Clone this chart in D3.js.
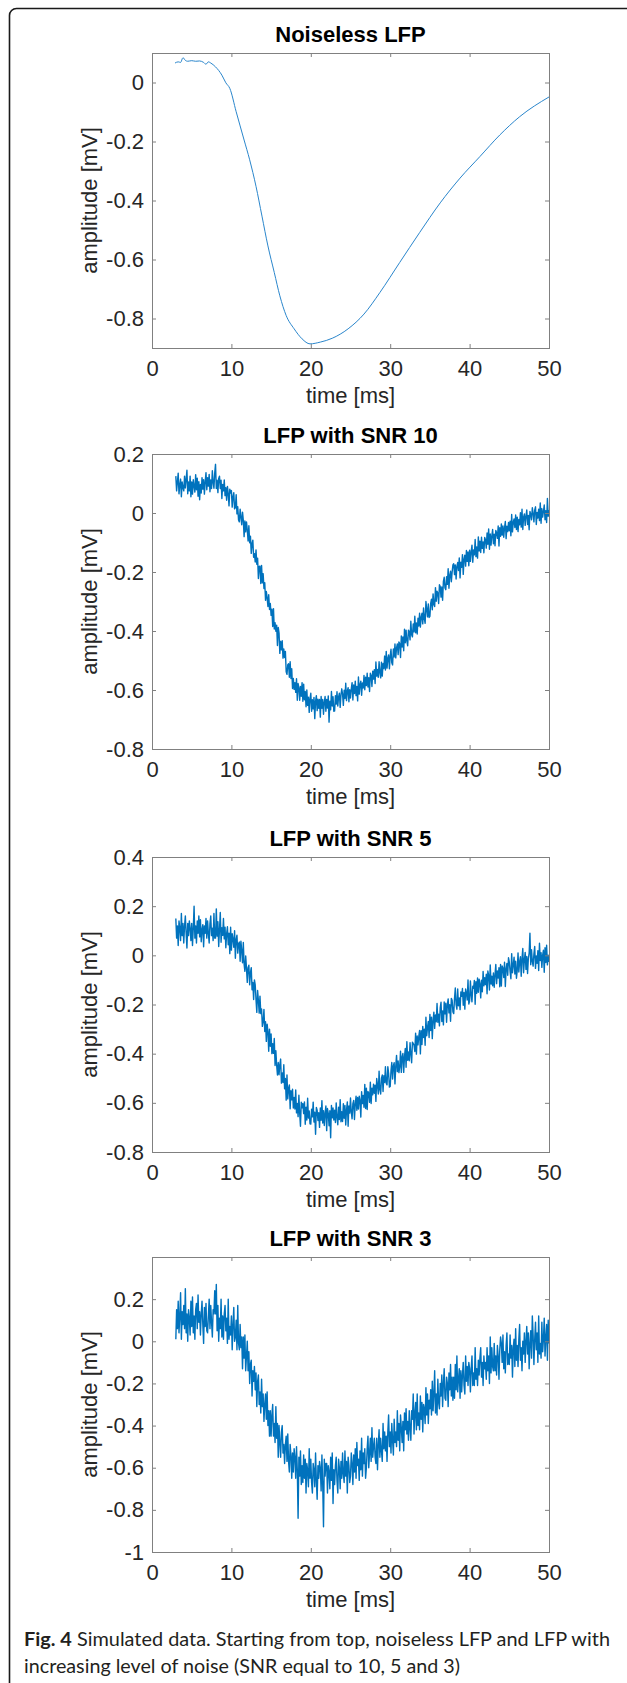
<!DOCTYPE html>
<html>
<head>
<meta charset="utf-8">
<script src="https://cdn.jsdelivr.net/npm/d3@7"></script>
<style>
  body { margin: 0; background: #fff; }
  svg { display: block; }
</style>
</head>
<body>
<svg id="drawing_region"></svg>
<script>
// axis ticks / titles
const xTicks = [0, 10, 20, 30, 40, 50];
const titles = ["Noiseless LFP", "LFP with SNR 10", "LFP with SNR 5", "LFP with SNR 3"];
const yLimits = [[-0.9, 0.1], [-0.8, 0.2], [-0.8, 0.4], [-1, 0.4]];
const yTicks = [
    [-0.8, -0.6, -0.4, -0.2, 0],
    [-0.8, -0.6, -0.4, -0.2, 0, 0.2],
    [-0.8, -0.6, -0.4, -0.2, 0, 0.2, 0.4],
    [-1, -0.8, -0.6, -0.4, -0.2, 0, 0.2]
];

// noiseless LFP
const noiselessTime = [2.9, 3.3, 3.6, 3.9, 4.2, 4.5, 5.0, 5.5, 6.0, 6.5, 6.8, 7.1, 7.4, 8.0, 8.8, 9.3, 9.8,
    10.6, 11.6, 12.3, 13.1, 13.85, 14.6, 15.4, 16.1, 16.9, 17.9, 18.9, 19.9, 21.2, 22.7, 24.7, 26.7,
    28.7, 31.2, 33.7, 36.3, 38.8, 41.3, 43.8, 46.3, 50];
const noiselessAmp = [0.066, 0.07, 0.068, 0.084, 0.075, 0.072, 0.074, 0.072, 0.073, 0.068, 0.062, 0.07, 0.066, 0.053, 0.025, -0.001, -0.02,
    -0.099, -0.195, -0.262, -0.352, -0.453, -0.554, -0.644, -0.723, -0.79, -0.835, -0.869, -0.886, -0.88, -0.867, -0.835, -0.785,
    -0.712, -0.61, -0.509, -0.408, -0.324, -0.251, -0.178, -0.116, -0.049];

// noisy traces: one sample every 0.1 ms from 3 ms to 50 ms (one row = 1 ms)
const sampleStart = 3;
const sampleStep = 0.1;

const snr10Amp = [
    0.125, 0.075, 0.105, 0.135, 0.065, 0.095, 0.115, 0.055, 0.105, 0.085,
    0.075, 0.125, 0.085, 0.115, 0.145, 0.065, 0.105, 0.075, 0.125, 0.055,
    0.105, 0.064, 0.113, 0.092, 0.071, 0.130, 0.079, 0.118, 0.057, 0.106,
    0.045, 0.097, 0.068, 0.120, 0.081, 0.113, 0.064, 0.106, 0.137, 0.079,
    0.120, 0.091, 0.131, 0.072, 0.112, 0.083, 0.143, 0.104, 0.084, 0.135,
    0.165, 0.083, 0.111, 0.069, 0.117, 0.125, 0.083, 0.111, 0.049, 0.097,
    0.075, 0.112, 0.059, 0.086, 0.043, 0.090, 0.067, 0.024, 0.081, 0.068,
    0.076, 0.020, 0.055, 0.069, 0.014, 0.018, 0.062, -0.003, 0.021, -0.024,
    -0.030, 0.013, -0.013, -0.040, 0.003, -0.024, -0.080, -0.027, -0.064, -0.030,
    -0.057, -0.095, -0.043, -0.101, -0.079, -0.137, -0.104, -0.092, -0.150, -0.138,
    -0.166, -0.125, -0.174, -0.153, -0.222, -0.181, -0.180, -0.239, -0.178, -0.237,
    -0.206, -0.256, -0.236, -0.296, -0.266, -0.287, -0.317, -0.277, -0.327, -0.307,
    -0.347, -0.326, -0.385, -0.324, -0.393, -0.372, -0.401, -0.380, -0.449, -0.388,
    -0.407, -0.476, -0.435, -0.464, -0.433, -0.492, -0.461, -0.490, -0.469, -0.538,
    -0.547, -0.514, -0.511, -0.557, -0.504, -0.561, -0.528, -0.595, -0.561, -0.598,
    -0.575, -0.608, -0.562, -0.635, -0.578, -0.592, -0.635, -0.588, -0.621, -0.575,
    -0.638, -0.580, -0.633, -0.605, -0.657, -0.600, -0.652, -0.624, -0.676, -0.629,
    -0.611, -0.672, -0.633, -0.664, -0.625, -0.697, -0.638, -0.619, -0.670, -0.631,
    -0.662, -0.632, -0.692, -0.622, -0.662, -0.632, -0.682, -0.642, -0.622, -0.672,
    -0.632, -0.661, -0.620, -0.709, -0.638, -0.667, -0.605, -0.654, -0.623, -0.672,
    -0.671, -0.619, -0.648, -0.606, -0.654, -0.623, -0.611, -0.659, -0.617, -0.596,
    -0.614, -0.652, -0.601, -0.629, -0.577, -0.636, -0.604, -0.592, -0.640, -0.599,
    -0.627, -0.596, -0.575, -0.634, -0.583, -0.612, -0.570, -0.619, -0.588, -0.637,
    -0.556, -0.614, -0.582, -0.570, -0.618, -0.576, -0.593, -0.551, -0.599, -0.557,
    -0.585, -0.543, -0.590, -0.558, -0.605, -0.543, -0.551, -0.588, -0.536, -0.563,
    -0.531, -0.578, -0.505, -0.553, -0.530, -0.557, -0.504, -0.541, -0.559, -0.506,
    -0.553, -0.510, -0.527, -0.485, -0.532, -0.469, -0.526, -0.493, -0.481, -0.528,
    -0.485, -0.462, -0.508, -0.515, -0.461, -0.488, -0.444, -0.491, -0.457, -0.444,
    -0.480, -0.437, -0.443, -0.490, -0.417, -0.454, -0.420, -0.467, -0.394, -0.440,
    -0.397, -0.434, -0.450, -0.397, -0.403, -0.430, -0.367, -0.413, -0.420, -0.376,
    -0.403, -0.350, -0.406, -0.373, -0.410, -0.357, -0.383, -0.340, -0.387, -0.353,
    -0.340, -0.376, -0.322, -0.358, -0.374, -0.300, -0.326, -0.352, -0.308, -0.354,
    -0.350, -0.306, -0.292, -0.328, -0.274, -0.310, -0.317, -0.253, -0.299, -0.265,
    -0.271, -0.307, -0.243, -0.249, -0.285, -0.251, -0.296, -0.232, -0.218, -0.254,
    -0.260, -0.216, -0.242, -0.189, -0.255, -0.211, -0.197, -0.233, -0.200, -0.176,
    -0.172, -0.209, -0.176, -0.224, -0.181, -0.168, -0.195, -0.152, -0.220, -0.167,
    -0.184, -0.141, -0.208, -0.156, -0.143, -0.180, -0.127, -0.164, -0.132, -0.179,
    -0.126, -0.164, -0.131, -0.109, -0.167, -0.125, -0.142, -0.090, -0.148, -0.115,
    -0.153, -0.081, -0.129, -0.096, -0.134, -0.082, -0.120, -0.098, -0.135, -0.083,
    -0.091, -0.119, -0.068, -0.106, -0.054, -0.123, -0.071, -0.109, -0.077, -0.056,
    -0.104, -0.072, -0.111, -0.059, -0.067, -0.086, -0.044, -0.112, -0.050, -0.079,
    -0.037, -0.075, -0.044, -0.082, -0.050, -0.029, -0.087, -0.045, -0.063, -0.032,
    -0.060, -0.028, -0.077, -0.005, -0.064, -0.032, -0.020, -0.049, -0.007, -0.056,
    -0.014, -0.063, -0.022, -0.040, 0.001, -0.048, 0.013, -0.056, -0.014, -0.003,
    -0.042, -0.011, 0.010, -0.039, -0.008, -0.057, 0.005, -0.004, -0.023, 0.018,
    -0.001, -0.030, 0.010, 0.021, -0.039, 0.002, -0.017, 0.013, -0.026, 0.034,
    -0.035, 0.015, -0.014, 0.006, 0.027, -0.023, 0.008, -0.032, 0.049, -0.011,
    0.010
];

const snr5Amp = [
    0.15, 0.07, 0.12, 0.04, 0.14, 0.11, 0.06, 0.17, 0.08, 0.13,
    0.05, 0.12, 0.16, 0.09, 0.03, 0.13, 0.08, 0.14, 0.11, 0.06,
    0.13, 0.04, 0.11, 0.20, 0.07, 0.12, 0.05, 0.14, 0.09, 0.16,
    0.075, 0.145, 0.055, 0.105, 0.125, 0.035, 0.120, 0.090, 0.150, 0.070,
    0.14, 0.09, 0.05, 0.13, 0.16, 0.08, 0.11, 0.06, 0.17, 0.07,
    0.070, 0.189, 0.078, 0.137, 0.036, 0.105, 0.174, 0.053, 0.112, 0.081,
    0.150, 0.067, 0.114, 0.031, 0.088, 0.116, 0.043, 0.090, 0.007, 0.114,
    0.021, 0.088, 0.066, 0.033, 0.100, -0.012, 0.065, 0.082, 0.009, 0.047,
    0.054, -0.024, 0.057, 0.019, -0.030, 0.052, -0.036, -0.065, -0.003, -0.052,
    -0.110, -0.050, -0.040, -0.120, -0.070, -0.050, -0.140, -0.110, -0.180, -0.100,
    -0.120, -0.181, -0.232, -0.143, -0.184, -0.235, -0.166, -0.237, -0.218, -0.289,
    -0.270, -0.220, -0.310, -0.270, -0.350, -0.280, -0.310, -0.390, -0.300, -0.370,
    -0.320, -0.400, -0.359, -0.399, -0.338, -0.448, -0.388, -0.447, -0.487, -0.436,
    -0.486, -0.444, -0.422, -0.520, -0.478, -0.517, -0.445, -0.543, -0.501, -0.589,
    -0.487, -0.584, -0.541, -0.527, -0.624, -0.551, -0.588, -0.545, -0.621, -0.578,
    -0.625, -0.548, -0.641, -0.603, -0.656, -0.569, -0.642, -0.695, -0.597, -0.620,
    -0.603, -0.644, -0.596, -0.687, -0.618, -0.670, -0.581, -0.662, -0.633, -0.685,
    -0.686, -0.626, -0.657, -0.597, -0.678, -0.638, -0.728, -0.619, -0.630, -0.672,
    -0.640, -0.700, -0.621, -0.671, -0.591, -0.682, -0.632, -0.692, -0.642, -0.613,
    -0.713, -0.623, -0.643, -0.693, -0.632, -0.742, -0.611, -0.661, -0.621, -0.670,
    -0.630, -0.680, -0.600, -0.659, -0.689, -0.618, -0.668, -0.587, -0.677, -0.636,
    -0.676, -0.604, -0.663, -0.611, -0.690, -0.628, -0.596, -0.695, -0.613, -0.642,
    -0.580, -0.638, -0.665, -0.603, -0.590, -0.668, -0.605, -0.573, -0.630, -0.578,
    -0.625, -0.573, -0.590, -0.658, -0.555, -0.603, -0.570, -0.618, -0.525, -0.623,
    -0.540, -0.627, -0.554, -0.561, -0.598, -0.516, -0.603, -0.540, -0.567, -0.524,
    -0.561, -0.528, -0.594, -0.501, -0.527, -0.564, -0.471, -0.547, -0.564, -0.500,
    -0.487, -0.554, -0.490, -0.517, -0.453, -0.520, -0.527, -0.453, -0.480, -0.536,
    -0.533, -0.470, -0.436, -0.503, -0.450, -0.437, -0.523, -0.450, -0.407, -0.473,
    -0.430, -0.477, -0.453, -0.390, -0.476, -0.413, -0.399, -0.476, -0.412, -0.379,
    -0.455, -0.351, -0.427, -0.393, -0.429, -0.355, -0.401, -0.437, -0.353, -0.359,
    -0.365, -0.391, -0.317, -0.402, -0.328, -0.364, -0.330, -0.306, -0.401, -0.307,
    -0.363, -0.289, -0.334, -0.300, -0.366, -0.252, -0.327, -0.293, -0.269, -0.334,
    -0.240, -0.306, -0.252, -0.339, -0.265, -0.231, -0.297, -0.243, -0.270, -0.196,
    -0.272, -0.239, -0.287, -0.214, -0.191, -0.269, -0.226, -0.283, -0.190, -0.238,
    -0.195, -0.272, -0.199, -0.177, -0.234, -0.201, -0.268, -0.175, -0.183, -0.230,
    -0.237, -0.175, -0.133, -0.201, -0.219, -0.137, -0.205, -0.173, -0.221, -0.149,
    -0.167, -0.135, -0.203, -0.151, -0.219, -0.137, -0.154, -0.182, -0.100, -0.198,
    -0.186, -0.104, -0.161, -0.189, -0.126, -0.134, -0.102, -0.199, -0.107, -0.154,
    -0.092, -0.150, -0.097, -0.115, -0.173, -0.101, -0.148, -0.066, -0.124, -0.091,
    -0.119, -0.077, -0.156, -0.064, -0.082, -0.141, -0.039, -0.117, -0.085, -0.124,
    -0.072, -0.130, -0.079, -0.037, -0.115, -0.064, -0.092, -0.050, -0.128, -0.037,
    -0.125, -0.043, -0.052, -0.090, -0.028, -0.127, -0.055, -0.033, -0.081, -0.010,
    -0.028, -0.066, -0.095, 0.007, -0.071, -0.040, -0.008, -0.076, -0.024, -0.093,
    -0.061, 0.010, -0.068, -0.027, -0.006, -0.085, -0.013, 0.028, -0.071, -0.019,
    0.012, -0.057, -0.005, -0.074, -0.012, 0.009, 0.090, -0.038, 0.023, -0.025,
    -0.044, 0.006, 0.036, -0.053, -0.003, -0.032, 0.019, -0.062, 0.049, -0.021,
    0.011, -0.049, 0.001, 0.021, -0.069, 0.031, -0.029, 0.041, -0.039, 0.001,
    -0.027
];

const snr3Amp = [
    0.01, 0.15, 0.06, 0.19, 0.04, 0.12, 0.23, 0.01, 0.14, 0.08,
    0.17, 0.06, 0.25, 0.04, 0.13, 0.00, 0.15, 0.11, 0.03, 0.19,
    0.07, 0.21, 0.04, 0.12, 0.01, 0.15, 0.18, 0.06, 0.22, 0.09,
    0.14, 0.03, 0.13, 0.19, 0.08, -0.01, 0.16, 0.07, 0.18, 0.05,
    0.04, 0.12, 0.20, 0.06, 0.17, 0.09, 0.02, 0.15, 0.13, 0.24,
    0.13, 0.27, 0.05, 0.17, 0.00, 0.11, 0.06, 0.20, 0.02, 0.12,
    0.01, 0.13, 0.17, 0.05, 0.11, -0.01, 0.20, 0.01, 0.07, 0.03,
    0.12, -0.04, 0.08, 0.16, 0.00, 0.02, 0.10, -0.04, 0.17, -0.01,
    -0.04, 0.08, -0.03, 0.02, -0.13, 0.02, -0.08, 0.03, -0.14, -0.07,
    0.00, -0.14, -0.05, -0.20, -0.11, -0.09, -0.26, -0.14, -0.19, -0.12,
    -0.23, -0.15, -0.31, -0.19, -0.16, -0.30, -0.24, -0.34, -0.18, -0.31,
    -0.25, -0.38, -0.30, -0.25, -0.37, -0.24, -0.40, -0.33, -0.45, -0.33,
    -0.45, -0.35, -0.30, -0.45, -0.39, -0.48, -0.31, -0.46, -0.39, -0.55,
    -0.40, -0.48, -0.55, -0.43, -0.40, -0.53, -0.49, -0.58, -0.49, -0.45,
    -0.57, -0.44, -0.57, -0.62, -0.49, -0.54, -0.65, -0.53, -0.62, -0.51,
    -0.55, -0.65, -0.50, -0.61, -0.84, -0.55, -0.64, -0.52, -0.68, -0.59,
    -0.67, -0.54, -0.65, -0.56, -0.72, -0.58, -0.61, -0.69, -0.51, -0.65,
    -0.56, -0.67, -0.72, -0.58, -0.61, -0.69, -0.53, -0.66, -0.75, -0.59,
    -0.65, -0.57, -0.60, -0.71, -0.54, -0.68, -0.88, -0.56, -0.64, -0.58,
    -0.58, -0.72, -0.59, -0.62, -0.70, -0.55, -0.66, -0.53, -0.77, -0.61,
    -0.68, -0.59, -0.55, -0.66, -0.72, -0.56, -0.60, -0.70, -0.57, -0.65,
    -0.53, -0.63, -0.67, -0.52, -0.64, -0.57, -0.72, -0.55, -0.59, -0.67,
    -0.64, -0.53, -0.58, -0.68, -0.54, -0.62, -0.51, -0.65, -0.48, -0.59,
    -0.56, -0.66, -0.52, -0.61, -0.46, -0.64, -0.53, -0.58, -0.51, -0.65,
    -0.60, -0.51, -0.45, -0.60, -0.53, -0.46, -0.57, -0.41, -0.55, -0.50,
    -0.46, -0.55, -0.58, -0.46, -0.61, -0.49, -0.42, -0.55, -0.46, -0.52,
    -0.57, -0.39, -0.51, -0.43, -0.52, -0.45, -0.57, -0.43, -0.35, -0.50,
    -0.43, -0.53, -0.39, -0.47, -0.54, -0.37, -0.48, -0.43, -0.50, -0.33,
    -0.47, -0.39, -0.52, -0.35, -0.41, -0.48, -0.38, -0.52, -0.34, -0.42,
    -0.32, -0.44, -0.38, -0.47, -0.33, -0.41, -0.47, -0.33, -0.37, -0.25,
    -0.44, -0.34, -0.29, -0.42, -0.25, -0.40, -0.34, -0.42, -0.26, -0.37,
    -0.29, -0.43, -0.30, -0.32, -0.39, -0.22, -0.35, -0.25, -0.39, -0.28,
    -0.32, -0.23, -0.35, -0.19, -0.33, -0.25, -0.14, -0.34, -0.25, -0.35,
    -0.18, -0.29, -0.32, -0.20, -0.26, -0.16, -0.31, -0.20, -0.13, -0.27,
    -0.28, -0.17, -0.20, -0.31, -0.15, -0.23, -0.11, -0.26, -0.17, -0.28,
    -0.17, -0.27, -0.11, -0.23, -0.07, -0.24, -0.18, -0.13, -0.27, -0.14,
    -0.24, -0.16, -0.10, -0.21, -0.25, -0.07, -0.19, -0.12, -0.21, -0.10,
    -0.13, -0.24, -0.13, -0.07, -0.21, -0.15, -0.21, -0.03, -0.18, -0.13,
    -0.21, -0.09, -0.16, -0.08, -0.03, -0.17, -0.10, -0.21, -0.07, -0.13,
    -0.10, -0.18, -0.03, -0.14, -0.07, -0.20, 0.02, -0.15, -0.03, -0.12,
    -0.14, -0.01, -0.14, -0.07, -0.16, -0.02, -0.07, -0.18, -0.04, 0.02,
    -0.01, -0.10, 0.03, -0.13, -0.05, -0.15, -0.02, 0.04, -0.11, -0.06,
    -0.11, 0.03, -0.08, -0.02, -0.17, -0.03, 0.01, -0.12, 0.06, -0.09,
    -0.02, -0.12, 0.01, 0.08, -0.09, -0.03, -0.14, 0.00, -0.06, 0.04,
    -0.10, 0.00, 0.07, -0.06, 0.04, -0.13, -0.01, 0.05, -0.08, 0.12,
    0.03, -0.11, 0.01, 0.09, -0.04, 0.04, -0.10, 0.12, -0.06, -0.01,
    -0.08, 0.09, -0.05, 0.01, 0.11, -0.07, 0.02, 0.08, -0.09, 0.10,
    -0.01
];

const noisyTraces = [snr10Amp, snr5Amp, snr3Amp];

const svgWidth = 627;
const svgHeight = 1683;
const panelTops = [53, 454, 857, 1257];
const fontFamily = '"Liberation Sans", Arial, Helvetica, sans-serif';

class LfpPlot {
    constructor( config, data ) {
        this.config = {
            parent: config.parent,
            top: config.top,
            left: config.left || 152,
            width: config.width || 397,
            height: config.height || 295,
            title: config.title,
            ylim: config.ylim,
            yticks: config.yticks,
            smooth: config.smooth || false
        };
        this.data = data;
        this.init();
    }

    init() {
        let self = this;

        self.chart = self.config.parent.append('g')
            .attr('transform', `translate(${self.config.left}, ${self.config.top})`);

        self.xscale = d3.scaleLinear()
            .domain([0, 50])
            .range([0, self.config.width]);

        self.yscale = d3.scaleLinear()
            .domain(self.config.ylim)
            .range([self.config.height, 0]);

        // MATLAB-style box: ticks point inwards on all four sides
        self.xaxis = d3.axisBottom( self.xscale )
            .tickValues( xTicks )
            .tickSize( -4 )
            .tickPadding( 12 )
            .tickSizeOuter( 0 )
            .tickFormat( d => String(d) );

        self.xaxis_top = d3.axisTop( self.xscale )
            .tickValues( xTicks )
            .tickSize( -4 )
            .tickSizeOuter( 0 )
            .tickFormat( '' );

        self.yaxis = d3.axisLeft( self.yscale )
            .tickValues( self.config.yticks )
            .tickSize( -4 )
            .tickPadding( 8 )
            .tickSizeOuter( 0 )
            .tickFormat( d => String(d) );

        self.yaxis_right = d3.axisRight( self.yscale )
            .tickValues( self.config.yticks )
            .tickSize( -4 )
            .tickSizeOuter( 0 )
            .tickFormat( '' );
    }

    render() {
        let self = this;
        const w = self.config.width, h = self.config.height;

        const clipId = 'clip' + self.config.top;
        self.chart.append('clipPath').attr('id', clipId)
            .append('rect').attr('width', w).attr('height', h);

        const line = d3.line()
            .x( d => self.xscale(d.t) )
            .y( d => self.yscale(d.v) )
            .curve( self.config.smooth ? d3.curveMonotoneX : d3.curveLinear );

        self.chart.append('path')
            .datum( self.data )
            .attr('clip-path', `url(#${clipId})`)
            .attr('fill', 'none')
            .attr('stroke', self.config.smooth ? '#2a86cc' : '#0072bd')
            .attr('stroke-width', self.config.smooth ? 1 : 1.4)
            .attr('stroke-linejoin', 'round')
            .attr('d', line);

        const groups = [
            self.chart.append('g').attr('transform', `translate(0, ${h})`).call( self.xaxis ),
            self.chart.append('g').call( self.xaxis_top ),
            self.chart.append('g').call( self.yaxis ),
            self.chart.append('g').attr('transform', `translate(${w}, 0)`).call( self.yaxis_right )
        ];
        groups.forEach( g => {
            g.attr('font-family', fontFamily)
                .attr('font-size', 22)
                .style('color', '#808080');
            g.select('.domain').remove();
            g.selectAll('text').attr('fill', '#262626');
        });

        self.chart.append('rect')
            .attr('x', 0.5)
            .attr('y', 0.5)
            .attr('width', w)
            .attr('height', h)
            .attr('fill', 'none')
            .attr('stroke', '#808080')
            .attr('stroke-width', 1);

        self.chart.append('text')
            .attr('x', w / 2)
            .attr('y', -11)
            .attr('text-anchor', 'middle')
            .attr('font-family', fontFamily)
            .attr('font-size', 22)
            .attr('font-weight', 'bold')
            .attr('fill', '#000')
            .text( self.config.title );

        self.chart.append('text')
            .attr('x', w / 2)
            .attr('y', h + 54.5)
            .attr('text-anchor', 'middle')
            .attr('font-family', fontFamily)
            .attr('font-size', 22)
            .attr('fill', '#262626')
            .text('time [ms]');

        self.chart.append('text')
            .attr('transform', `translate(-55, ${h / 2}) rotate(-90)`)
            .attr('text-anchor', 'middle')
            .attr('font-family', fontFamily)
            .attr('font-size', 22)
            .attr('fill', '#262626')
            .text('amplitude [mV]');
    }
}

const svg = d3.select('#drawing_region')
    .attr('width', svgWidth)
    .attr('height', svgHeight);

svg.append('rect').attr('width', svgWidth).attr('height', svgHeight).attr('fill', '#fff');

// figure frame (rounded top-left corner, open at right and bottom)
svg.append('path')
    .attr('d', `M${svgWidth},8.5 H16.5 A7,7 0 0 0 9.5,15.5 V${svgHeight}`)
    .attr('fill', 'none')
    .attr('stroke', '#1a1a1a')
    .attr('stroke-width', 1.6);

const noiselessData = noiselessTime.map( (t, i) => ({ t: t, v: noiselessAmp[i] }) );

const panels = [noiselessData].concat( noisyTraces.map( arr =>
    arr.map( (v, i) => ({ t: sampleStart + i * sampleStep, v: v }) ) ) );

panels.forEach( (data, i) => {
    const plot = new LfpPlot({
        parent: svg,
        top: panelTops[i],
        title: titles[i],
        ylim: yLimits[i],
        yticks: yTicks[i],
        smooth: i === 0
    }, data );
    plot.render();
});

// caption
const caption1 = svg.append('text')
    .attr('x', 24)
    .attr('y', 1646)
    .attr('font-family', 'Lato, "Open Sans", sans-serif')
    .attr('font-size', 19.5)
    .attr('fill', '#231f20')
    .attr('textLength', 586)
    .attr('lengthAdjust', 'spacingAndGlyphs');
caption1.append('tspan').attr('font-weight', 'bold').text('Fig. 4');
caption1.append('tspan').text(' Simulated data. Starting from top, noiseless LFP and LFP with');

svg.append('text')
    .attr('x', 24)
    .attr('y', 1673)
    .attr('font-family', 'Lato, "Open Sans", sans-serif')
    .attr('font-size', 19.5)
    .attr('fill', '#231f20')
    .attr('textLength', 436)
    .attr('lengthAdjust', 'spacingAndGlyphs')
    .text('increasing level of noise (SNR equal to 10, 5 and 3)');
</script>
</body>
</html>
